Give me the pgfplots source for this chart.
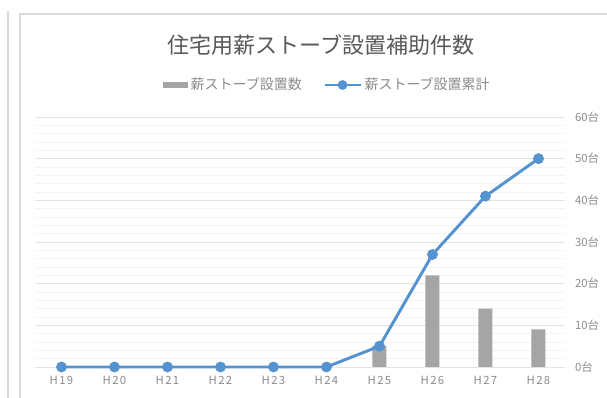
\documentclass[border=0pt]{standalone}
\usepackage{pgfplots}
\pgfplotsset{compat=1.18}
\usepackage{fontspec}
\setmainfont{Noto Sans CJK JP}
\definecolor{barGray}{HTML}{A5A5A5}
\definecolor{lineBlue}{HTML}{5592D0}
\definecolor{titleC}{HTML}{595959}
\definecolor{labelC}{HTML}{8C8C8C}
\definecolor{gridC}{HTML}{E3E3E3}
\definecolor{minorC}{HTML}{F3F3F3}
\definecolor{frameC}{HTML}{DADADA}
\begin{document}
\begin{tikzpicture}
\useasboundingbox (0,0) rectangle (455.25pt,298.5pt);
\fill[white] (0,0) rectangle (455.25pt,298.5pt);
\draw[frameC, line width=0.8pt] (6pt,0) -- (6pt,290.5pt);
\draw[frameC, line width=0.8pt] (15pt,0) -- (15pt,288pt) -- (455.25pt,288pt);
\node[text=titleC, font=\fontsize{16.5}{19}\selectfont] at (240.75pt,264.75pt) {住宅用薪ストーブ設置補助件数};
\begin{axis}[
  at={(26.25pt,23.25pt)}, anchor=south west,
  width=397.5pt, height=187.5pt, scale only axis,
  xmin=-0.5, xmax=9.5, ymin=0, ymax=60,
  clip=false,
  ytick={0,10,...,60},
  minor y tick num=4,
  ymajorgrids, yminorgrids,
  major grid style={gridC, line width=0.6pt},
  minor grid style={minorC, line width=0.5pt},
  axis line style={draw=none},
  tick style={draw=none},
  yticklabel pos=right,
  /pgf/number format/assume math mode=true,
  yticklabel={\pgfmathprintnumber{\tick}台},
  yticklabel style={text=labelC, font=\fontsize{8.5}{10}\selectfont, xshift=4pt},
  xtick={0,...,9},
  xticklabels={H19,H20,H21,H22,H23,H24,H25,H26,H27,H28},
  xticklabel style={text=labelC, font=\fontsize{8.5}{10}\selectfont\addfontfeature{LetterSpace=12}, yshift=-3pt},
  legend columns=2,
  legend style={draw=none, fill=none, at={(0.552,1.128)}, anchor=center,
    font=\fontsize{10.5}{12}\selectfont, text=labelC,
    /tikz/every even column/.append style={column sep=14pt}},
]
\addplot[ybar, bar width=10.5pt, fill=barGray, draw=none,
  legend image code/.code={\fill[barGray] (0pt,-2pt) rectangle (19pt,2pt);}]
  coordinates {(0,0)(1,0)(2,0)(3,0)(4,0)(5,0)(6,5)(7,22)(8,14)(9,9)};
\addlegendentry{薪ストーブ設置数}
\addplot[lineBlue, line width=2.2pt, mark=*, mark size=3.8pt,
  mark options={fill=lineBlue, draw=lineBlue, line width=0.5pt},
  legend image code/.code={\draw[lineBlue, line width=2pt] (0pt,0pt) -- (27pt,0pt);
     \fill[lineBlue] (13.5pt,0pt) circle (2.5pt);}]
  coordinates {(0,0)(1,0)(2,0)(3,0)(4,0)(5,0)(6,5)(7,27)(8,41)(9,50)};
\addlegendentry{薪ストーブ設置累計}
\end{axis}
\end{tikzpicture}
\end{document}
